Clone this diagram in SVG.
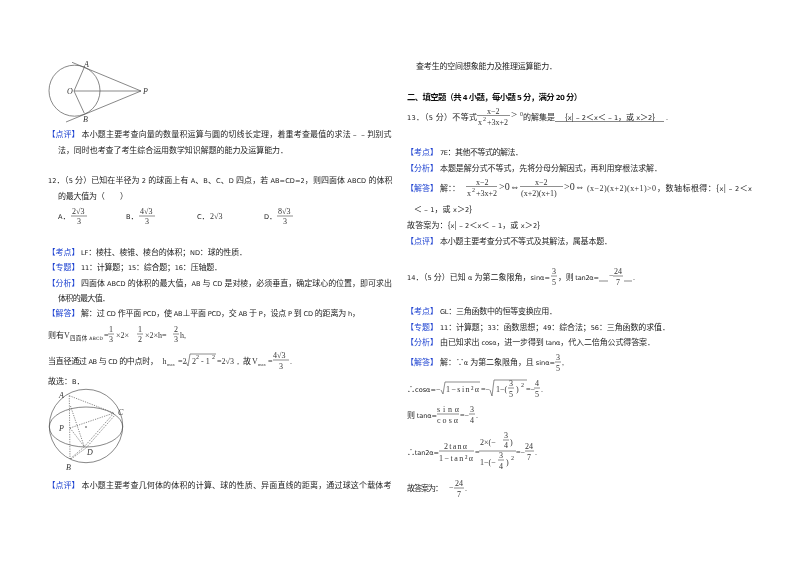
<svg xmlns="http://www.w3.org/2000/svg" width="800" height="565" viewBox="0 0 800 565">
<style>
text{font-family:"Noto Sans CJK SC",sans-serif;font-size:8px;fill:#222}
tspan.l{font-family:"DejaVu Sans",sans-serif;font-size:6.6px}
.h{font-size:8.4px;font-weight:700;fill:#111}
.h tspan.l{font-weight:700;font-size:7px}
.b{fill:#1a3fd0}
.m{font-family:"Liberation Serif",serif;fill:#333}
.s{font-family:"Liberation Serif",serif;font-size:6px;fill:#333}
.u{font-family:"Liberation Serif",serif;font-size:4.5px;fill:#333}
.i{font-family:"Liberation Serif",serif;font-style:italic;fill:#333}
.f{stroke:#444;stroke-width:.6;fill:none}
.g{stroke:#555;stroke-width:.7;fill:none}
.d{stroke:#555;stroke-width:.7;fill:none;stroke-dasharray:1.2 1.2}
</style>
<defs><filter id="soft" x="0" y="0" width="100%" height="100%"><feGaussianBlur stdDeviation="0.3"/></filter></defs>
<rect width="800" height="565" fill="#fff"/>
<g filter="url(#soft)">
<g id="figure-circle">
<circle class="g" cx="74.5" cy="90.700" r="25.500"/>
<path class="g" d="M74 91H141M72 62.300L141 91L66 122M74 91L84.300 67.300M74 91L84.300 113.300"/>
<text class="i" x="67" y="94">O</text><text class="i" x="143" y="94">P</text><text class="i" x="84" y="67">A</text><text class="i" x="83" y="122">B</text>
</g>
<g id="figure-sphere">
<circle class="g" cx="86" cy="426" r="36.700"/>
<ellipse class="g" cx="86" cy="427" rx="36.700" ry="20"/>
<path class="d" d="M69.300 395.700L70 459M69.300 395.700L114 413M70.500 406L84.300 446.700M70 428L114 413M70 428L84.300 446.700M70 459L84.300 446.700L114 413M71 459L86 448L115 415"/>
<circle cx="86" cy="427" r=".8" fill="#333"/>
<text class="i" x="59" y="398">A</text><text class="i" x="118" y="415">C</text><text class="i" x="59" y="431">P</text><text class="i" x="87" y="455">D</text><text class="i" x="66" y="470">B</text>
</g>

<g id="left-text">
<text class="b" x="47.500" y="137">【点评】</text>
<text x="81.500" y="137" textLength="310">本小题主要考查向量的数量积运算与圆的切线长定理，着重考查最值的求法﹣﹣判别式</text>
<text x="58" y="153" textLength="230">法，同时也考查了考生综合运用数学知识解题的能力及运算能力．</text>
<text x="48" y="183" textLength="344.500"><tspan class="l">12</tspan>．（<tspan class="l">5 </tspan>分）已知在半径为<tspan class="l"> 2 </tspan>的球面上有<tspan class="l"> A</tspan>、<tspan class="l">B</tspan>、<tspan class="l">C</tspan>、<tspan class="l">D </tspan>四点，若<tspan class="l"> AB=CD=2</tspan>，则四面体<tspan class="l"> ABCD </tspan>的体积</text>
<text x="58" y="199" textLength="70">的最大值为（　　）</text>
<text x="58" y="219"><tspan class="l">A</tspan>．</text><text x="126" y="219"><tspan class="l">B</tspan>．</text><text x="197" y="219"><tspan class="l">C</tspan>．</text><text x="264" y="219"><tspan class="l">D</tspan>．</text>
<g id="options">
<text class="m" x="72" y="214">2√3</text><path class="f" d="M71 216H87"/><text class="m" x="77" y="224">3</text>
<text class="m" x="140" y="214">4√3</text><path class="f" d="M139 216H155"/><text class="m" x="145" y="224">3</text>
<text class="m" x="210" y="219">2√3</text>
<text class="m" x="278" y="214">8√3</text><path class="f" d="M277 216H293"/><text class="m" x="283" y="224">3</text>
</g>
<text class="b" x="47.500" y="255">【考点】</text>
<text x="81" y="255" textLength="166"><tspan class="l">LF</tspan>：棱柱、棱锥、棱台的体积；<tspan class="l">ND</tspan>：球的性质．</text>
<text class="b" x="47.500" y="270">【专题】</text>
<text x="81" y="270" textLength="141"><tspan class="l">11</tspan>：计算题；<tspan class="l">15</tspan>：综合题；<tspan class="l">16</tspan>：压轴题．</text>
<text class="b" x="47.500" y="286">【分析】</text>
<text x="81" y="286" textLength="311">四面体<tspan class="l"> ABCD </tspan>的体积的最大值，<tspan class="l">AB </tspan>与<tspan class="l"> CD </tspan>是对棱，必须垂直，确定球心的位置，即可求出</text>
<text x="58" y="301" textLength="52">体积的最大值．</text>
<text class="b" x="47.500" y="316">【解答】</text>
<text x="81" y="316" textLength="279">解：过<tspan class="l"> CD </tspan>作平面<tspan class="l"> PCD</tspan>，使<tspan class="l"> AB</tspan>⊥平面<tspan class="l"> PCD</tspan>，交<tspan class="l"> AB </tspan>于<tspan class="l"> P</tspan>，设点<tspan class="l"> P </tspan>到<tspan class="l"> CD </tspan>的距离为<tspan class="l"> h</tspan>，</text>
<text x="48" y="338">则有</text><text class="m" x="64" y="338">V</text><text x="70" y="340" textLength="33" style="font-size:5.500px">四面体<tspan class="l" style="font-size:4.500px"> ABCD</tspan></text>
<text class="m" x="104" y="338">=</text><text class="m" x="109" y="332">1</text><path class="f" d="M108 334H114"/><text class="m" x="109" y="342">3</text><text class="m" x="116" y="338">×2×</text>
<text class="m" x="138" y="332">1</text><path class="f" d="M137 334H143"/><text class="m" x="138" y="342">2</text><text class="m" x="145" y="338">×2×h=</text>
<text class="m" x="174" y="332">2</text><path class="f" d="M173 334H179"/><text class="m" x="174" y="342">3</text><text class="m" x="180" y="338">h,</text>
<text x="48" y="364" textLength="110">当直径通过<tspan class="l"> AB </tspan>与<tspan class="l"> CD </tspan>的中点时，</text>
<text class="m" x="162.500" y="364">h</text><text class="u" x="167" y="366">max</text><text class="m" x="178" y="364">=2</text>
<path class="f" d="M186 362L188 366L190 354H216"/><text class="m" x="192" y="364">2</text><text class="s" x="196" y="359">2</text><text class="m" x="201" y="364">- 1</text><text class="s" x="212" y="359">2</text>
<text class="m" x="217" y="364">=2√3，</text>
<text x="243" y="364">故</text><text class="m" x="252" y="364">V</text><text class="u" x="258" y="366">max</text><text class="m" x="268" y="364">=</text>
<text class="m" x="273" y="358">4√3</text><path class="f" d="M273 360H289"/><text class="m" x="279" y="369">3</text><text class="m" x="290" y="364">.</text>
<text x="48" y="384">故选：<tspan class="l">B</tspan>．</text>
<text class="b" x="47.500" y="488">【点评】</text>
<text x="81.500" y="488" textLength="310">本小题主要考查几何体的体积的计算、球的性质、异面直线的距离，通过球这个载体考</text>
</g>

<g id="right-text">
<text x="416" y="69" textLength="141">查考生的空间想象能力及推理运算能力．</text>
<text class="h" x="407" y="100" textLength="175">二、填空题（共<tspan class="l"> 4 </tspan>小题，每小题<tspan class="l"> 5 </tspan>分，满分<tspan class="l"> 20 </tspan>分）</text>
<text x="407" y="120" textLength="70"><tspan class="l">13</tspan>．（<tspan class="l">5 </tspan>分）不等式</text>
<text class="m" x="487" y="114">x−2</text><path class="f" d="M477 115.500H510"/><text class="m" x="478" y="125">x</text><text class="s" x="483" y="121">2</text><text class="m" x="487" y="125">+3x+2</text>
<text class="m" x="511" y="118" style="font-size:11px">&gt;</text><text class="s" x="520" y="116">0</text>
<text x="523" y="120">的解集是</text>
<text x="565" y="120" textLength="90">{<tspan class="l">x</tspan>|﹣<tspan class="l">2</tspan>＜<tspan class="l">x</tspan>＜﹣<tspan class="l">1</tspan>，或<tspan class="l"> x</tspan>＞<tspan class="l">2</tspan>}</text><path class="g" d="M555 121.500H664"/><text class="m" x="666" y="120">.</text>
<text class="b" x="406" y="155">【考点】</text><text x="440" y="155" textLength="83"><tspan class="l">7E</tspan>：其他不等式的解法．</text>
<text class="b" x="406" y="171">【分析】</text><text x="440" y="171" textLength="222">本题是解分式不等式，先将分母分解因式，再利用穿根法求解．</text>
<text class="b" x="406" y="191">【解答】</text><text x="440" y="191">解：：</text>
<text class="m" x="476" y="185">x−2</text><path class="f" d="M466 186.500H497"/><text class="m" x="467" y="196">x</text><text class="s" x="472" y="192">2</text><text class="m" x="476" y="196">+3x+2</text>
<text class="m" x="499" y="190" style="font-size:10px">&gt;0⇔</text>
<text class="m" x="535" y="185">x−2</text><path class="f" d="M520 186.500H563"/><text class="m" x="521" y="196">(x+2)(x+1)</text>
<text class="m" x="564" y="190" style="font-size:10px">&gt;0⇔</text>
<text class="m" x="587" y="191" textLength="69">(x−2)(x+2)(x+1)&gt;0</text>
<text x="657" y="191" textLength="95">，数轴标根得：{<tspan class="l">x</tspan>|﹣<tspan class="l">2</tspan>＜<tspan class="l">x</tspan></text>
<text x="414" y="212" textLength="58">＜﹣<tspan class="l">1</tspan>，或<tspan class="l"> x</tspan>＞<tspan class="l">2</tspan>}</text>
<text x="407" y="228" textLength="133">故答案为：{<tspan class="l">x</tspan>|﹣<tspan class="l">2</tspan>＜<tspan class="l">x</tspan>＜﹣<tspan class="l">1</tspan>，或<tspan class="l"> x</tspan>＞<tspan class="l">2</tspan>}</text>
<text class="b" x="406" y="244">【点评】</text><text x="440" y="244" textLength="172">本小题主要考查分式不等式及其解法，属基本题．</text>
<text x="407" y="280" textLength="143"><tspan class="l">14</tspan>．（<tspan class="l">5 </tspan>分）已知<tspan class="l"> α </tspan>为第二象限角，<tspan class="l">sinα=</tspan></text>
<text class="m" x="552" y="274">3</text><path class="f" d="M551 276H557"/><text class="m" x="552" y="285">5</text>
<text x="558" y="280" textLength="41">，则<tspan class="l"> tan2α=</tspan></text>
<text class="m" x="609" y="278">−</text><text class="m" x="614" y="274">24</text><path class="f" d="M613 276H623"/><text class="m" x="616" y="285">7</text>
<path class="g" d="M599 281H608M624 281H632"/><text class="m" x="633" y="280">.</text>
<text class="b" x="406" y="314">【考点】</text><text x="440" y="314" textLength="117"><tspan class="l">GL</tspan>：三角函数中的恒等变换应用．</text>
<text class="b" x="406" y="330">【专题】</text><text x="440" y="330" textLength="230"><tspan class="l">11</tspan>：计算题；<tspan class="l">33</tspan>：函数思想；<tspan class="l">49</tspan>：综合法；<tspan class="l">56</tspan>：三角函数的求值．</text>
<text class="b" x="406" y="345">【分析】</text><text x="440" y="345" textLength="215">由已知求出<tspan class="l"> cosα</tspan>，进一步得到<tspan class="l"> tanα</tspan>，代入二倍角公式得答案．</text>
<text class="b" x="406" y="365">【解答】</text><text x="440" y="365" textLength="115">解：∵<tspan class="l">α </tspan>为第二象限角，且<tspan class="l"> sinα=</tspan></text>
<text class="m" x="556" y="360">3</text><path class="f" d="M555 362H561"/><text class="m" x="556" y="371">5</text><text class="m" x="562" y="365">,</text>
<text x="407" y="392" textLength="29">∴<tspan class="l">cosα=</tspan></text>
<text class="m" x="436" y="392">−</text><path class="f" d="M441 390L443 394L445 382H480"/><text class="m" x="446" y="392" textLength="33">1−sin²α</text>
<text class="m" x="481" y="392">=−</text><path class="f" d="M490 390L492 396L494 380H527"/><text class="m" x="496" y="392">1−(</text>
<text class="m" x="509" y="386">3</text><path class="f" d="M508 388H514"/><text class="m" x="509" y="397">5</text><text class="m" x="516" y="392">)</text><text class="s" x="521" y="387">2</text>
<text class="m" x="526" y="392">=−</text><text class="m" x="535" y="386">4</text><path class="f" d="M534 388H540"/><text class="m" x="535" y="397">5</text><text class="m" x="541" y="392">.</text>
<text x="407" y="418" textLength="30">则<tspan class="l"> tanα=</tspan></text>
<text class="m" x="437" y="412" textLength="22">sinα</text><path class="f" d="M437 414H459"/><text class="m" x="437" y="423" textLength="21">cosα</text>
<text class="m" x="460" y="418">=−</text><text class="m" x="470" y="412">3</text><path class="f" d="M469 414H475"/><text class="m" x="470" y="423">4</text><text class="m" x="476" y="418">.</text>
<text x="407" y="455" textLength="32">∴<tspan class="l">tan2α=</tspan></text>
<text class="m" x="444" y="449" textLength="23">2tanα</text><path class="f" d="M439 451H474"/><text class="m" x="439" y="461" textLength="34">1−tan²α</text>
<text class="m" x="475" y="455">=</text><text class="m" x="480" y="445">2×(−</text><text class="m" x="504" y="438">3</text><path class="f" d="M503 440H509"/><text class="m" x="504" y="448">4</text><text class="m" x="510" y="445">)</text>
<path class="f" d="M479 451H516"/>
<text class="m" x="480" y="465">1−(−</text><text class="m" x="499" y="458">3</text><path class="f" d="M498 460H504"/><text class="m" x="499" y="469">4</text><text class="m" x="506" y="465">)</text><text class="s" x="511" y="460">2</text>
<text class="m" x="516" y="455">=−</text><text class="m" x="525" y="449">24</text><path class="f" d="M525 451H534"/><text class="m" x="527" y="460">7</text><text class="m" x="535" y="455">.</text>
<text x="407" y="491" textLength="36">故答案为：</text>
<text class="m" x="449" y="490">−</text><text class="m" x="455" y="486">24</text><path class="f" d="M454 488H464"/><text class="m" x="457" y="497">7</text><text class="m" x="465" y="491">.</text>
</g>
</g>
</svg>
